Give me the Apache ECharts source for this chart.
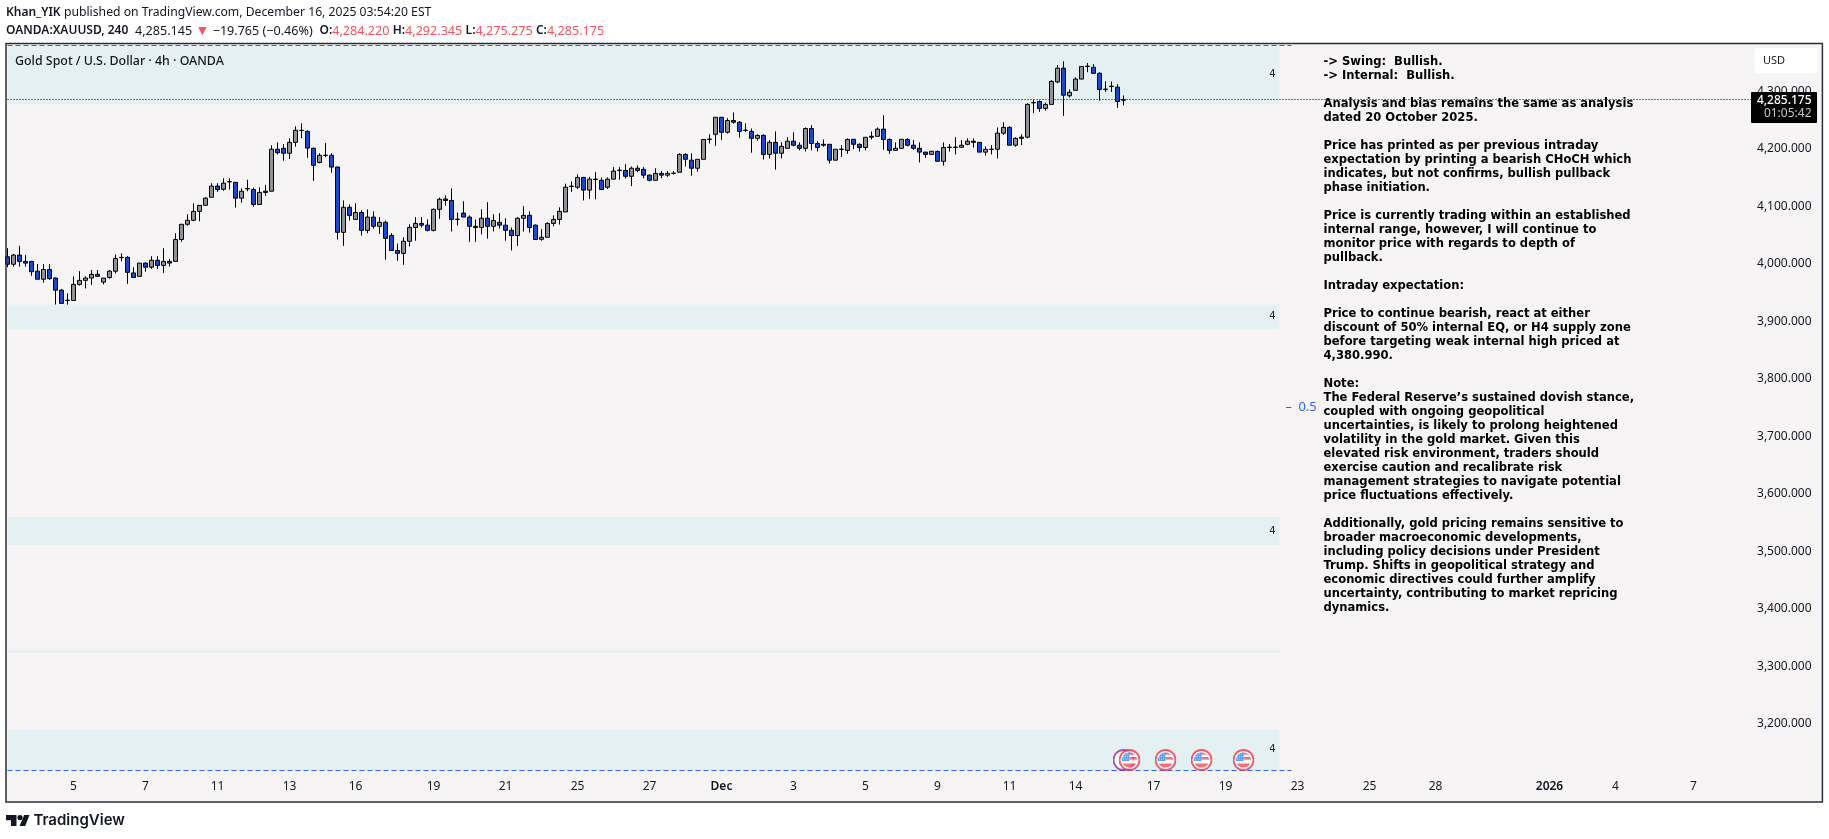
<!DOCTYPE html>
<html><head><meta charset="utf-8">
<style>html,body{margin:0;padding:0;background:#fff}#c{width:1829px;height:839px}</style>
<script src="https://cdn.jsdelivr.net/npm/echarts@6/dist/echarts.min.js"></script>
</head><body><div id="c"></div>
<script>
const barSlots = 302;
const opens = [4012,3999,4015,4004,4004,3987,3973,3990,3975,3954,
3936,3936,3964,3971,3975,3981.5,3968,3976,3987,4010.5,
4011,3984,3978,4001,3994,4006,3997,4004,4004,4042,
4068.5,4075.5,4091,4101.5,4115.5,4135,4129.4,4142.3,4141.5,4114,
4130,4129,4103,4126,4126,4199,4200.6,4192,4211,4231.5,
4230,4200.6,4176,4188.2,4188.5,4168,4054.5,4098,4077,4089,
4058,4081,4065,4072,4049,4023,4018,4039,4063,4070,
4067,4058,4094.5,4112.5,4110,4076.8,4088,4081,4065,4063,
4079,4065,4072,4067,4058,4049,4079,4084,4067,4042.4,
4046,4070,4077,4090,4134.3,4133,4150,4128,4146.5,4145,
4133,4147,4162,4162,4152,4166,4164,4154,4145,4157,
4154,4156.9,4159,4190,4180,4166,4181.5,4216,4225,4254.6,
4228.5,4249,4246,4231.6,4230,4218,4223,4190,4211,4192,
4200.6,4213,4206,4200.6,4235,4209,4207.6,4207.6,4180,4198.6,
4197,4216.3,4207.6,4202,4221.5,4221.5,4234,4216,4197,4200.6,
4216,4206,4200.6,4194,4190,4195,4178,4202,4202,4202.4,
4207.6,4213,4211,4194,4198.6,4199,4227,4237,4206,4220,
4220,4279.7,4282,4270,4277,4316,4340,4292,4301.5,4321,
4343,4341.5,4331,4303,4308,4307,4284.22];
const closes = [3999,4015,4004,4001,3986,3973,3990,3974,3954,3931,
3936.5,3964,3971,3975,3981.5,3978,3975,3987,4009,4011,
3985,3976,4001,3994,4006,3997,4004,4001,4042,4068.5,
4075.5,4091,4101.5,4114,4135,4129,4140,4142.7,4114,4126,
4130.7,4103,4124,4124,4199,4193,4192,4211,4232,4232,
4201,4171,4188.5,4188.7,4168,4054.5,4098,4084,4089,4058,
4081,4065,4072,4044,4023,4018,4039,4063,4070,4067,
4058,4094.5,4112,4110,4077,4077.4,4081,4065,4063,4079,
4065,4075,4067,4058,4049,4079,4084,4063,4042,4046,
4070,4077,4091,4133,4134.9,4150,4128,4147,4147,4129,
4147,4161,4162.7,4152,4166,4162,4154,4145,4157,4154,
4157,4157.4,4190,4181.5,4166,4181.5,4216,4216.6,4254.6,4228.5,
4249,4246,4230,4232.2,4218,4223,4190,4211,4192,4204,
4213,4206,4200.6,4235,4209,4202,4206,4180,4199,4199.2,
4216,4207.6,4202,4219.8,4220,4234,4216,4197,4200.6,4216.3,
4206,4200.6,4194,4190,4195.4,4178,4202,4202.7,4202.7,4206,
4213,4211,4194,4199,4199.2,4227,4237,4206,4218,4218,
4277,4280.3,4270,4277,4317,4340,4293,4298,4321,4343,
4343.5,4331,4303,4303.5,4308.7,4282,4285.175];
const lows = [3994,3995,3995,3995,3979,3973,3967,3972,3929,3931,
3929,3936,3962,3957,3963,3978,3964,3974,3983,4004,
3965,3976,3978,3986,3991,3991,3984,3995,4004,4038,
4066,4074,4074,4101.5,4115.5,4125,4127,4129,4097.5,4106,
4126,4099,4103,4118,4126,4190,4179,4182,4203.5,4218,
4184,4144,4174.5,4185,4158,4042,4031,4075,4077,4049,
4053,4061,4052,4007,4023,4005,3998,4030,4040,4063,
4056,4056,4078,4101,4056,4066,4081,4038,4038,4051,
4043.5,4056,4061,4040,4023,4031,4056,4054,4042,4040,
4046,4065,4068,4090,4125,4130,4110,4112.5,4112,4128,
4130,4147,4146,4148,4135,4159,4148.5,4143,4145,4148.5,
4151,4155,4159,4169,4153,4160,4181.5,4209,4205,4215,
4226,4243.5,4219,4228.5,4193,4214,4181,4183,4163.5,4183,
4200.6,4204,4197,4195,4197,4195,4203.5,4174,4180,4185.6,
4191,4199,4195,4197,4216,4221.5,4198,4191,4197,4200.6,
4204,4198,4176,4184,4190,4178,4170.5,4195,4190,4202,
4206,4202,4194,4188,4190,4183,4224,4206,4203.5,4206,
4218,4262,4264,4266,4277,4314,4257,4289,4301.5,4321,
4333,4331,4283.5,4298.6,4298.6,4271,4275.275];
const highs = [4027,4017,4031,4015,4004,3999.5,3999.5,3999.5,3976,3956,
3948.5,3978,3987,3978,3989,3989,3975,3989,4016,4018,
4013,3994,4001,4002,4013,4013,4027,4008,4053,4068.5,
4086,4105,4101.5,4115.5,4140,4140,4148.5,4148.5,4141.5,4131,
4146,4132,4133,4137,4206,4211,4208,4218,4239,4244,
4232,4202,4192,4210,4192,4169,4110,4103,4105,4093,
4094.5,4091,4081,4075,4053,4035,4046,4068.5,4081,4081,
4077,4096,4115,4119,4131,4089,4108.5,4084,4077,4094.5,
4107,4086,4088,4079,4063,4081,4100,4091,4068.5,4060,
4072,4084,4098,4139,4143,4155.5,4151,4151,4159.5,4150,
4150,4168,4168,4173,4169,4171,4168,4155,4166,4161,
4161,4161,4192,4192,4192,4181.5,4216.3,4225,4254.6,4254.6,
4253,4263,4248,4244,4235,4225,4225,4215,4230,4211,
4220,4228.5,4211,4237,4241,4213,4216,4207.6,4199,4206,
4218,4216.3,4209,4219.8,4230,4237,4258,4218,4211,4216.3,
4218,4215,4211,4194.3,4195.4,4197,4211,4208,4220,4215,
4218,4218,4211,4204,4206,4237,4246,4239,4220,4225,
4279,4285,4284,4280,4319,4345.5,4352,4303,4324,4343,
4349,4347,4333,4317,4317,4312,4292.345];

const timeTickIndex = [11,23,35,47,58,71,83,95,107,119,131,143,155,167,178,191,203,215,227,238,257,268,281];
const timeTickLabels = ['5','7','11','13','16','19','21','25','27','Dec','3','5','9','11','14','17','19','23','25','28','2026','4','7'];
const priceTicks = [3200,3300,3400,3500,3600,3700,3800,3900,4000,4100,4200,4300];
const lastPrice = 4285.175;
const zoneTops = [4380.3,3929,3559.5,3328,3190];
const zoneBottoms = [4277.7,3886,3511,3323,3119.5];
const zoneNotes = ['4','4','4','','4'];
const rangeHigh = 4380.3, rangeLow = 3119.5, rangeMidLabel = 3749.6;
const zoneEndIndex = 212, rangeEndIndex = 214;
const usEventIndex = [187,193,199,206];
const eventLevel = 3137;
const otherEventIndex = [186];

const noteLines = [
'-> Swing:  Bullish.','-> Internal:  Bullish.','',
'Analysis and bias remains the same as analysis','dated 20 October 2025.','',
'Price has printed as per previous intraday','expectation by printing a bearish CHoCH which','indicates, but not confirms, bullish pullback','phase initiation.','',
'Price is currently trading within an established','internal range, however, I will continue to','monitor price with regards to depth of','pullback.','',
'Intraday expectation:','',
'Price to continue bearish, react at either','discount of 50% internal EQ, or H4 supply zone','before targeting weak internal high priced at','4,380.990.','',
'Note:','The Federal Reserve\u2019s sustained dovish stance,','coupled with ongoing geopolitical','uncertainties, is likely to prolong heightened','volatility in the gold market. Given this','elevated risk environment, traders should','exercise caution and recalibrate risk','management strategies to navigate potential','price fluctuations effectively.','',
'Additionally, gold pricing remains sensitive to','broader macroeconomic developments,','including policy decisions under President','Trump. Shifts in geopolitical strategy and','economic directives could further amplify','uncertainty, contributing to market repricing','dynamics.'];

const FONT = '"Noto Sans", sans-serif';
const INK = '#131722';
const categories = Array.from({length: barSlots}, (_, i) => String(i));
const candles = opens.map((o, i) => [o, closes[i], lows[i], highs[i]]);
const tickMap = new Map(timeTickIndex.map((ix, k) => [ix, timeTickLabels[k]]));

const flagSvg = 'image://data:image/svg+xml;utf8,' + encodeURIComponent(
'<svg xmlns="http://www.w3.org/2000/svg" width="44" height="44" viewBox="0 0 22 22"><defs><clipPath id="k"><circle cx="11" cy="11" r="7.6"/></clipPath></defs>'+
'<circle cx="11" cy="11" r="10" fill="#fff" stroke="#f23645" stroke-width="1.8"/>'+
'<g clip-path="url(#k)"><rect x="3" y="3" width="16" height="16" fill="#fff"/><rect x="3" y="3" width="16" height="2.6" fill="#f7525f"/><rect x="11" y="8" width="8" height="2.6" fill="#f7525f"/><rect x="3" y="14.5" width="16" height="4.5" fill="#f7525f"/><rect x="3" y="3" width="8" height="9" fill="#3d8ff0"/><g fill="#cfe4fb"><circle cx="5" cy="5" r=".5"/><circle cx="7" cy="5" r=".5"/><circle cx="9" cy="5" r=".5"/><circle cx="5" cy="7.5" r=".5"/><circle cx="7" cy="7.5" r=".5"/><circle cx="9" cy="7.5" r=".5"/><circle cx="5" cy="10" r=".5"/><circle cx="7" cy="10" r=".5"/><circle cx="9" cy="10" r=".5"/></g></g></svg>');
const ringSvg = 'image://data:image/svg+xml;utf8,' + encodeURIComponent(
'<svg xmlns="http://www.w3.org/2000/svg" width="44" height="44" viewBox="0 0 22 22"><circle cx="11" cy="11" r="10" fill="#fff" stroke="#9c27b0" stroke-width="1.8"/></svg>');

const option = {
  animation: false,
  backgroundColor: '#ffffff',
  grid: {left: 4.5, right: 12.5, top: 44, bottom: 37, containLabel: false},
  xAxis: {
    type: 'category', data: categories, boundaryGap: true,
    axisLine: {show: false}, axisTick: {show: false}, splitLine: {show: false},
    axisLabel: {
      inside: true, margin: 9, fontFamily: FONT, fontSize: 12, color: INK, hideOverlap: false,
      interval: (i) => tickMap.has(i),
      formatter: (v, i) => {
        const t = tickMap.get(i) || '';
        return (t === 'Dec' || t === '2026') ? '{b|' + t + '}' : t;
      },
      rich: {b: {fontFamily: FONT, fontSize: 12, fontWeight: 600, color: INK}}
    }
  },
  yAxis: {
    type: 'value', position: 'right', min: 3064, max: 4382,
    axisLine: {show: false}, axisTick: {show: false}, splitLine: {show: false},
    axisLabel: {
      inside: true, margin: 5, fontFamily: FONT, fontSize: 12, color: INK,
      customValues: priceTicks,
      formatter: (v) => v.toLocaleString('en-US', {minimumFractionDigits: 3})
    }
  },
  series: [
    {
      type: 'candlestick', name: 'XAUUSD', data: candles, barWidth: 4, z: 3, clip: true,
      itemStyle: {color: '#8f9199', color0: '#1848cc', borderColor: '#000', borderColor0: '#000', borderWidth: 1},
      markArea: {
        silent: true, z: 1,
        itemStyle: {color: '#e4f0f2'},
        data: zoneTops.map((top, k) => [
          {xAxis: 0, yAxis: top, label: {show: !!zoneNotes[k], formatter: zoneNotes[k], position: 'insideRight', distance: 4, color: '#222', fontSize: 10, fontFamily: '"DejaVu Sans", sans-serif'}},
          {xAxis: zoneEndIndex, yAxis: zoneBottoms[k]}
        ])
      },
      markLine: {
        silent: true, symbol: 'none', z: 2, label: {show: false}, animation: false,
        data: [
          [{xAxis: 0, yAxis: rangeHigh, lineStyle: {color: '#2962ff', type: [5, 3], width: 1}}, {xAxis: rangeEndIndex, yAxis: rangeHigh}],
          [{xAxis: 0, yAxis: rangeLow, lineStyle: {color: '#2962ff', type: [5, 3], width: 1}}, {xAxis: rangeEndIndex, yAxis: rangeLow}],
          [{xAxis: 0, yAxis: lastPrice, lineStyle: {color: '#000', type: [1, 2], width: 1}}, {xAxis: barSlots - 1, yAxis: lastPrice}]
        ]
      },
      markPoint: {
        silent: true, symbol: 'circle', symbolSize: 0, z: 6,
        data: [{coord: [213, rangeMidLabel], label: {show: true, formatter: '\u2013  0.5', position: 'right', distance: 0, color: '#2962ff', fontSize: 12.8, fontFamily: FONT}}]
      }
    },
    {type: 'scatter', name: 'other events', silent: true, z: 4, symbol: ringSvg, symbolSize: 22, data: otherEventIndex.map(i => [i, eventLevel])},
    {type: 'scatter', name: 'US events', silent: true, z: 5, symbol: flagSvg, symbolSize: 22, data: usEventIndex.map(i => [i, eventLevel])}
  ],
  graphic: {elements: [
    {type: 'rect', z: -10, shape: {x: 6, y: 44, width: 1816.4, height: 758}, style: {fill: '#f6f4f5'}},
    {type: 'rect', z: 50, shape: {x: 6, y: 43.5, width: 1816.4, height: 758.5}, style: {fill: 'none', stroke: '#2a2e39', lineWidth: 1.5}},
    {type: 'text', z: 60, x: 6, y: 6.5, style: {
      text: '{b|Khan_YIK} {n|published on TradingView.com, December 16, 2025 03:54:20 EST}',
      rich: {b: {fontFamily: FONT, fontSize: 12, fontWeight: 600, fill: INK}, n: {fontFamily: FONT, fontSize: 12.2, fill: INK}}
    }},
    {type: 'text', z: 60, x: 6, y: 24, style: {
      text: '{b|OANDA:XAUUSD, 240}  {n|4,285.145} {t|\u25BC} {n|\u221219.765 (\u22120.46%)}  {b|O:}{r|4,284.220} {b|H:}{r|4,292.345} {b|L:}{r|4,275.275} {b|C:}{r|4,285.175}',
      rich: {b: {fontFamily: FONT, fontSize: 12, fontWeight: 600, fill: INK}, n: {fontFamily: FONT, fontSize: 12.6, fill: INK}, r: {fontFamily: FONT, fontSize: 12.6, fill: '#f7525f'}, t: {fontFamily: FONT, fontSize: 14, fill: '#f7525f'}}
    }},
    {type: 'text', z: 60, x: 15, y: 55, style: {text: 'Gold Spot / U.S. Dollar \u00B7 4h \u00B7 OANDA', fontFamily: FONT, fontSize: 12.4, fontWeight: 500, fill: INK}},
    {type: 'text', z: 60, x: 1323.5, y: 55, style: {text: noteLines.join('\n'), fontFamily: '"DejaVu Sans Condensed","DejaVu Sans",sans-serif', fontSize: 12.85, fontWeight: 'bold', lineHeight: 14, fill: '#000'}},
    {type: 'rect', z: 60, shape: {x: 1754.4, y: 48, width: 63, height: 25, r: 4}, style: {fill: '#fff'}},
    {type: 'text', z: 61, x: 1763, y: 55, style: {text: 'USD', fontFamily: FONT, fontSize: 11, fill: INK}},
    {type: 'rect', z: 60, shape: {x: 1751, y: 92, width: 66, height: 31, r: 1}, style: {fill: '#000'}},
    {type: 'text', z: 61, x: 1811.5, y: 95, style: {text: '4,285.175', align: 'right', fontFamily: FONT, fontSize: 12, fontWeight: 500, fill: '#fff'}},
    {type: 'text', z: 61, x: 1811.5, y: 108, style: {text: '01:05:42', align: 'right', fontFamily: FONT, fontSize: 12, fill: '#c8c8c8'}},
    {type: 'polygon', z: 60, shape: {points: [[6,815],[16.5,815],[16.5,826],[11,826],[11,820.3],[6,820.3]]}, style: {fill: INK}},
    {type: 'circle', z: 60, shape: {cx: 20, cy: 817.6, r: 2.6}, style: {fill: INK}},
    {type: 'polygon', z: 60, shape: {points: [[24.2,815],[29.5,815],[25.2,826],[19.5,826]]}, style: {fill: INK}},
    {type: 'text', z: 60, x: 33.5, y: 812.5, style: {text: 'TradingView', fontFamily: 'Inter, "Noto Sans", sans-serif', fontSize: 15, fontWeight: 600, fill: INK}}
  ]}
};
const chart = echarts.init(document.getElementById('c'));
chart.setOption(option);
</script></body></html>
